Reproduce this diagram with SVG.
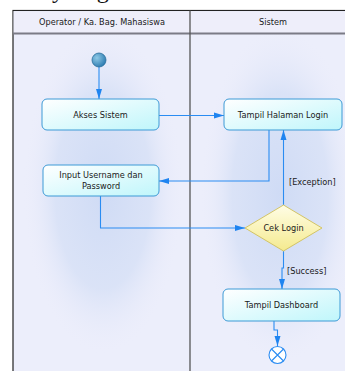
<svg xmlns="http://www.w3.org/2000/svg" width="345" height="371" viewBox="0 0 345 371">
<style>
.lbl{font-family:"DejaVu Sans",Verdana,sans-serif;font-size:8.2px;fill:#1a1a1a;text-anchor:middle}
.guard{font-family:"DejaVu Sans",Verdana,sans-serif;font-size:8.2px;fill:#1a1a1a}
.act{fill:url(#nodeFill);stroke:#3d9ad6;stroke-width:1}
.con{fill:none;stroke:#2a8cf2;stroke-width:1.1;marker-end:url(#arr)}
</style>
<defs>
<linearGradient id="nodeFill" x1="0" y1="0" x2="1" y2="1">
<stop offset="0" stop-color="#ffffff"/><stop offset="1" stop-color="#bff6fb"/>
</linearGradient>
<linearGradient id="decFill" x1="0" y1="0" x2="0" y2="1">
<stop offset="0" stop-color="#fffde6"/><stop offset="1" stop-color="#f4ea8e"/>
</linearGradient>
<radialGradient id="glow" cx="0.5" cy="0.5" r="0.5">
<stop offset="0" stop-color="#cfdbf5"/><stop offset="0.6" stop-color="#d6e0f6" stop-opacity="0.8"/><stop offset="1" stop-color="#ecedfb" stop-opacity="0"/>
</radialGradient>
<radialGradient id="startFill" cx="0.35" cy="0.35" r="0.7">
<stop offset="0" stop-color="#8fc9e6"/><stop offset="1" stop-color="#2c7bb0"/>
</radialGradient>
<marker id="arr" markerWidth="11" markerHeight="8" refX="10" refY="4" orient="auto" markerUnits="userSpaceOnUse">
<path d="M0,1 L10,4 L0,7 Z" fill="#1f84f0"/>
</marker>
</defs>
<rect x="0" y="0" width="345" height="371" fill="#ffffff"/>
<text x="52" y="-2" font-family="Liberation Serif,serif" font-size="24" fill="#111">y Login</text>
<g id="lanes">
<rect x="13" y="10.5" width="340" height="370" fill="#eceefb" stroke="#222" stroke-width="1.2"/>
<ellipse cx="103" cy="190" rx="80" ry="165" fill="url(#glow)"/>
<ellipse cx="280" cy="195" rx="80" ry="170" fill="url(#glow)"/>
<rect x="13.6" y="11.1" width="332" height="22" fill="#eeeefa"/>
<line x1="13" y1="33.5" x2="345" y2="33.5" stroke="#7b7b86" stroke-width="1.8"/>
<line x1="190" y1="10.5" x2="190" y2="371" stroke="#555" stroke-width="1.3"/>
<text class="lbl" x="102" y="25">Operator / Ka. Bag. Mahasiswa</text>
<text class="lbl" x="273" y="25">Sistem</text>
</g>
<g id="connectors">
<path class="con" d="M99,67 V99"/>
<path class="con" d="M159,115.5 H224"/>
<path class="con" d="M269,130 V181 H159"/>
<path class="con" d="M100.5,196 V228 H245"/>
<path class="con" d="M283.5,205 V130"/>
<path class="con" d="M283.5,251 V268 H282 V289"/>
<path class="con" d="M274,321 V330 H277.5 V346"/>
<text class="guard" x="289" y="185">[Exception]</text>
<text class="guard" x="287" y="274">[Success]</text>
</g>
<g id="start">
<circle cx="99" cy="60" r="7" fill="url(#startFill)" stroke="#2a6f9c" stroke-width="0.8"/>
</g>
<g id="akses">
<rect class="act" x="42" y="99" width="117" height="31" rx="5"/>
<text class="lbl" x="100.5" y="118">Akses Sistem</text>
</g>
<g id="tampilLogin">
<rect class="act" x="224" y="99" width="118" height="31" rx="5"/>
<text class="lbl" x="283" y="118">Tampil Halaman Login</text>
</g>
<g id="input">
<rect class="act" x="43" y="165" width="116" height="31" rx="5"/>
<text class="lbl" x="101" y="178">Input Username dan</text>
<text class="lbl" x="101" y="189">Password</text>
</g>
<g id="cekLogin">
<path d="M245,228 L283.5,205 L322,228 L283.5,251 Z" fill="url(#decFill)" stroke="#d3c466" stroke-width="1"/>
<text class="lbl" x="283.5" y="231">Cek Login</text>
</g>
<g id="dashboard">
<rect class="act" x="223" y="289" width="117" height="32" rx="5"/>
<text class="lbl" x="281.5" y="308">Tampil Dashboard</text>
</g>
<g id="end">
<circle cx="277.5" cy="355" r="8.5" fill="#ffffff" stroke="#2a8cf2" stroke-width="1.1"/>
<path d="M271.5,349 L283.5,361 M283.5,349 L271.5,361" stroke="#2a8cf2" stroke-width="1.1"/>
</g>
</svg>
